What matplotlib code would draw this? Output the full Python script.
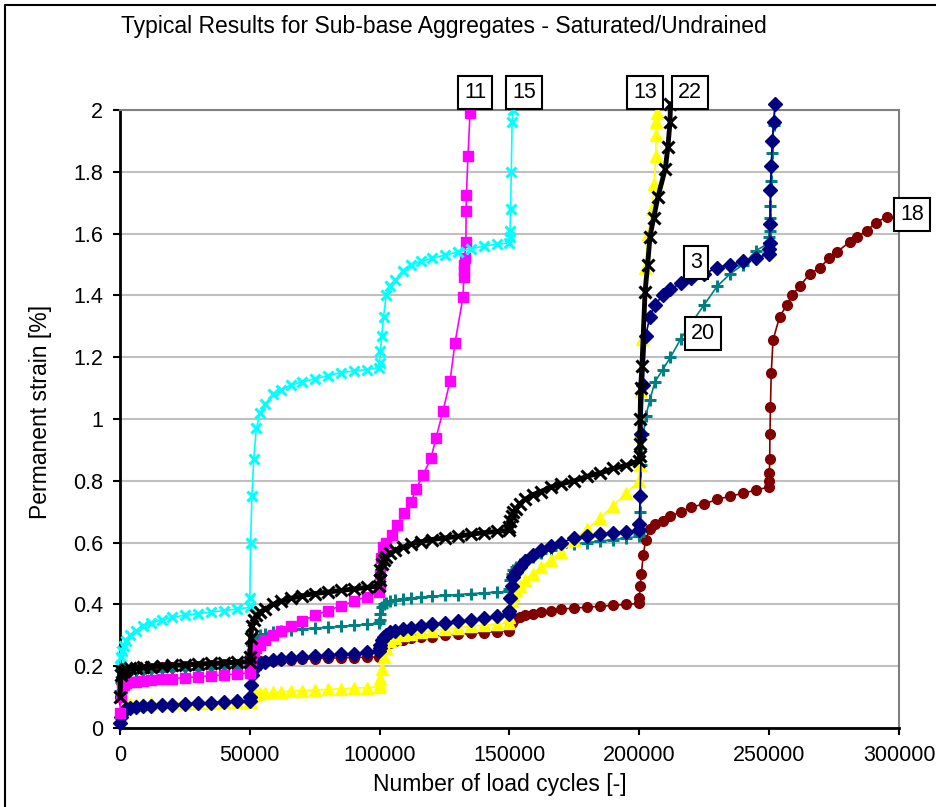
import matplotlib
matplotlib.use('Agg')
import matplotlib.pyplot as plt
from matplotlib.lines import Line2D

plt.rcParams['font.family'] = ['Liberation Sans', 'DejaVu Sans']

# cycle counts read within each 50000-cycle loading stage
STAGE_LEN = 50000
OFFSETS = [0, 300, 800, 1500, 2500, 4000, 6000, 9000, 12000, 16000,
           20000, 25000, 30000, 35000, 40000, 45000, 49900]

# ---- test 3 (navy, diamonds)
s3_stages = [
    [0.015, 0.035, 0.048, 0.055, 0.06, 0.064, 0.067, 0.07, 0.072, 0.074, 0.076, 0.078, 0.08, 0.082, 0.084, 0.086, 0.088],
    [0.10, 0.14, 0.17, 0.19, 0.20, 0.21, 0.215, 0.22, 0.223, 0.226, 0.229, 0.232, 0.235, 0.238, 0.241, 0.245, 0.25],
    [0.26, 0.27, 0.285, 0.295, 0.30, 0.31, 0.315, 0.32, 0.325, 0.33, 0.335, 0.34, 0.345, 0.35, 0.355, 0.362, 0.37],
    [0.38, 0.42, 0.46, 0.49, 0.505, 0.52, 0.54, 0.56, 0.575, 0.59, 0.60, 0.615, 0.622, 0.627, 0.631, 0.635, 0.64],
    [0.66, 0.75, 0.95, 1.11, 1.27, 1.33, 1.37, 1.40, 1.42, 1.44, 1.455, 1.47, 1.49, 1.50, 1.51, 1.52, 1.535],
]
s3_tail_x = [250050, 250150, 250300, 250500, 250800, 251200, 251700, 252300]
s3_tail_y = [1.55, 1.57, 1.63, 1.74, 1.82, 1.90, 1.96, 2.02]

# ---- test 11 (magenta, squares)
s11_stages = [
    [0.05, 0.10, 0.13, 0.14, 0.145, 0.148, 0.15, 0.153, 0.155, 0.158, 0.16, 0.163, 0.166, 0.169, 0.172, 0.175, 0.178],
    [0.19, 0.22, 0.24, 0.25, 0.26, 0.27, 0.285, 0.30, 0.315, 0.33, 0.345, 0.365, 0.38, 0.395, 0.41, 0.425, 0.44],
]
s11_tail_x = [100000, 100300, 100700, 101300, 102500, 104700, 106600, 109400, 112100, 114000,
              116700, 119800, 121700, 124400, 127100, 129000, 132100, 132400, 132500, 132600,
              132700, 133200, 133300, 133400, 134000, 134800]
s11_tail_y = [0.46, 0.50, 0.55, 0.586, 0.60, 0.625, 0.657, 0.696, 0.731, 0.773,
              0.819, 0.874, 0.939, 1.026, 1.123, 1.246, 1.395, 1.46, 1.48, 1.50,
              1.52, 1.573, 1.673, 1.725, 1.85, 1.99]

# ---- test 13 (yellow, triangles)
s13_stages = [
    [0.05, 0.06, 0.068, 0.072, 0.075, 0.077, 0.078, 0.079, 0.08, 0.08, 0.081, 0.081, 0.082, 0.082, 0.083, 0.083, 0.084],
    [0.09, 0.10, 0.105, 0.108, 0.11, 0.112, 0.113, 0.115, 0.117, 0.119, 0.121, 0.123, 0.125, 0.127, 0.129, 0.131, 0.133],
    [0.14, 0.16, 0.19, 0.23, 0.26, 0.28, 0.29, 0.30, 0.305, 0.31, 0.315, 0.32, 0.325, 0.33, 0.333, 0.337, 0.34],
    [0.36, 0.39, 0.41, 0.43, 0.445, 0.46, 0.48, 0.50, 0.52, 0.545, 0.57, 0.61, 0.645, 0.68, 0.72, 0.76, 0.80],
]
s13_tail_x = [200100, 200300, 200600, 201000, 202200, 203500, 204900, 205800, 206300, 206500, 206600, 206700]
s13_tail_y = [0.85, 0.96, 1.09, 1.26, 1.49, 1.60, 1.68, 1.76, 1.85, 1.92, 1.96, 1.99]

# ---- test 15 (cyan, crosses)
s15_stages = [
    [0.20, 0.23, 0.25, 0.265, 0.28, 0.30, 0.315, 0.33, 0.34, 0.35, 0.358, 0.365, 0.37, 0.375, 0.38, 0.385, 0.39],
    [0.42, 0.60, 0.75, 0.87, 0.97, 1.02, 1.05, 1.08, 1.095, 1.11, 1.12, 1.13, 1.14, 1.15, 1.155, 1.16, 1.165],
    [1.18, 1.22, 1.27, 1.33, 1.40, 1.43, 1.45, 1.48, 1.50, 1.51, 1.52, 1.53, 1.54, 1.55, 1.56, 1.565, 1.57],
]
s15_tail_x = [150100, 150200, 150400, 150700, 151000, 151300]
s15_tail_y = [1.59, 1.61, 1.68, 1.80, 1.96, 2.0]

# ---- test 18 (dark red, circles)
s18_stages = [
    [0.10, 0.15, 0.17, 0.18, 0.185, 0.187, 0.19, 0.192, 0.194, 0.196, 0.198, 0.20, 0.202, 0.204, 0.206, 0.208, 0.21],
    [0.21, 0.212, 0.213, 0.214, 0.215, 0.216, 0.217, 0.218, 0.219, 0.22, 0.222, 0.224, 0.226, 0.227, 0.228, 0.229, 0.23],
    [0.235, 0.245, 0.255, 0.265, 0.27, 0.275, 0.28, 0.285, 0.29, 0.293, 0.296, 0.30, 0.303, 0.306, 0.309, 0.312, 0.315],
    [0.32, 0.33, 0.34, 0.35, 0.355, 0.36, 0.365, 0.37, 0.375, 0.38, 0.385, 0.388, 0.391, 0.394, 0.397, 0.40, 0.403],
    [0.42, 0.46, 0.50, 0.56, 0.61, 0.645, 0.66, 0.67, 0.685, 0.70, 0.715, 0.725, 0.74, 0.75, 0.76, 0.77, 0.78],
]
s18_tail_x = [250000, 250100, 250200, 250300, 250500, 250800, 251500, 254000, 256800, 258800,
              261800, 265700, 269600, 273000, 276000, 281000, 284000, 287700, 291000, 295400]
s18_tail_y = [0.80, 0.825, 0.87, 0.95, 1.04, 1.15, 1.256, 1.33, 1.37, 1.40,
              1.43, 1.47, 1.49, 1.52, 1.54, 1.573, 1.59, 1.61, 1.635, 1.655]

# ---- test 20 (teal, plus)
s20_stages = [
    [0.12, 0.15, 0.16, 0.17, 0.175, 0.178, 0.18, 0.182, 0.184, 0.186, 0.188, 0.19, 0.192, 0.194, 0.196, 0.198, 0.20],
    [0.21, 0.24, 0.27, 0.285, 0.295, 0.30, 0.305, 0.31, 0.313, 0.316, 0.32, 0.323, 0.326, 0.329, 0.332, 0.335, 0.34],
    [0.35, 0.37, 0.39, 0.40, 0.405, 0.41, 0.413, 0.417, 0.42, 0.423, 0.426, 0.429, 0.432, 0.435, 0.437, 0.44, 0.442],
    [0.45, 0.48, 0.50, 0.51, 0.52, 0.53, 0.545, 0.555, 0.565, 0.575, 0.585, 0.595, 0.60, 0.605, 0.61, 0.615, 0.62],
    [0.63, 0.70, 0.85, 0.95, 1.01, 1.06, 1.12, 1.16, 1.20, 1.26, 1.31, 1.37, 1.43, 1.47, 1.50, 1.545, 1.57],
]
s20_tail_x = [250050, 250150, 250300, 250500, 250800, 251200, 251700, 252300]
s20_tail_y = [1.59, 1.61, 1.65, 1.69, 1.77, 1.86, 1.95, 2.02]

# ---- test 22 (black, crosses)
s22_stages = [
    [0.10, 0.17, 0.18, 0.185, 0.19, 0.193, 0.195, 0.197, 0.199, 0.201, 0.203, 0.205, 0.207, 0.209, 0.211, 0.213, 0.215],
    [0.23, 0.29, 0.33, 0.35, 0.365, 0.375, 0.385, 0.40, 0.41, 0.42, 0.428, 0.435, 0.44, 0.445, 0.45, 0.455, 0.46],
    [0.48, 0.51, 0.53, 0.545, 0.555, 0.566, 0.575, 0.585, 0.595, 0.603, 0.61, 0.615, 0.62, 0.627, 0.632, 0.636, 0.64],
    [0.65, 0.67, 0.685, 0.70, 0.71, 0.725, 0.74, 0.755, 0.765, 0.78, 0.79, 0.80, 0.815, 0.825, 0.84, 0.85, 0.865],
]
s22_tail_x = [200100, 200200, 200300, 200500, 201000, 202200, 203200, 204100, 205500, 207200,
              210000, 211000, 211800, 212000]
s22_tail_y = [0.88, 0.92, 1.00, 1.10, 1.17, 1.41, 1.50, 1.59, 1.65, 1.72,
              1.81, 1.88, 1.96, 2.02]

# label text and where the boxed label sits (cycles, strain)
labels = ['3', '11', '13', '15', '18', '20', '22']
label_x = [221800, 136700, 202200, 155600, 305000, 224500, 219500]
label_y = [1.508, 2.058, 2.058, 2.058, 1.663, 1.278, 2.058]


def build(stages, tail_x, tail_y):
    xs, ys = [], []
    for i, vals in enumerate(stages):
        for off, v in zip(OFFSETS, vals):
            xs.append(i * STAGE_LEN + off)
            ys.append(v)
    return xs + tail_x, ys + tail_y


series = [
    # data, color, marker, markersize, line width, zorder
    (build(s18_stages, s18_tail_x, s18_tail_y), '#800000', 'o', 7, 1.2, 2),
    (build(s20_stages, s20_tail_x, s20_tail_y), '#008080', '+', 8, 1.2, 3),
    (build(s13_stages, s13_tail_x, s13_tail_y), '#FFFF00', '^', 9, 1.2, 4),
    (build(s3_stages, s3_tail_x, s3_tail_y), '#000080', 'D', 7.5, 1.2, 5),
    (build(s11_stages, s11_tail_x, s11_tail_y), '#FF00FF', 's', 7.5, 1.2, 6),
    (build(s15_stages, s15_tail_x, s15_tail_y), '#00FFFF', 'x', 7, 1.2, 7),
    (build(s22_stages, s22_tail_x, s22_tail_y), '#000000', 'x', 8.5, 3.5, 8),
]

fig = plt.figure(figsize=(9.37, 8.07), dpi=100)
ax = fig.add_axes([120 / 937, 1 - 728 / 807, 779 / 937, 618 / 807])

for (xs, ys), col, mk, ms, lw, z in series:
    ax.plot(xs, ys, color=col, lw=lw, marker=mk, ms=ms, mfc=col, mec=col,
            mew=2.2 if mk in ('x', '+') else 1, zorder=z, clip_on=False)

for txt, lx, ly in zip(labels, label_x, label_y):
    ax.text(lx, ly, txt, ha='center', va='center', fontsize=15.5, zorder=10,
            clip_on=False,
            bbox=dict(boxstyle='square,pad=0.28', fc='white', ec='black', lw=1.5))

ax.set_xlim(0, 300000)
ax.set_ylim(0, 2)
ax.set_xticks([0, 50000, 100000, 150000, 200000, 250000, 300000])
ax.set_xticklabels(['0', '50000', '100000', '150000', '200000', '250000', '300000'])
ax.set_yticks([0, 0.2, 0.4, 0.6, 0.8, 1.0, 1.2, 1.4, 1.6, 1.8, 2.0])
ax.set_yticklabels(['0', '0.2', '0.4', '0.6', '0.8', '1', '1.2', '1.4', '1.6', '1.8', '2'])
ax.tick_params(labelsize=15.5, length=5, width=1.5, direction='out', pad=7)
ax.yaxis.grid(True, color='#c0c0c0', lw=1.5)
ax.set_axisbelow(True)
for side in ('left', 'bottom'):
    ax.spines[side].set_linewidth(2)
    ax.spines[side].set_color('black')
for side in ('top', 'right'):
    ax.spines[side].set_linewidth(1.5)
    ax.spines[side].set_color('#808080')

ax.set_xlabel('Number of load cycles [-]', fontsize=16.5)
ax.set_ylabel('Permanent strain [%]', fontsize=16.5)
ax.xaxis.set_label_coords(0.488, -0.073)
ax.yaxis.set_label_coords(-0.087, 0.511)

fig.text(444 / 937, 1 - 27 / 807, 'Typical Results for Sub-base Aggregates - Saturated/Undrained',
         ha='center', va='center', fontsize=16.5)

# outer chart frame (only top and left edges fall inside the picture)
fig.add_artist(Line2D([5 / 937, 5 / 937, 1], [0, 1 - 5 / 807, 1 - 5 / 807],
                      transform=fig.transFigure, color='black', lw=1.5))

fig.savefig('out.png', dpi=100)
